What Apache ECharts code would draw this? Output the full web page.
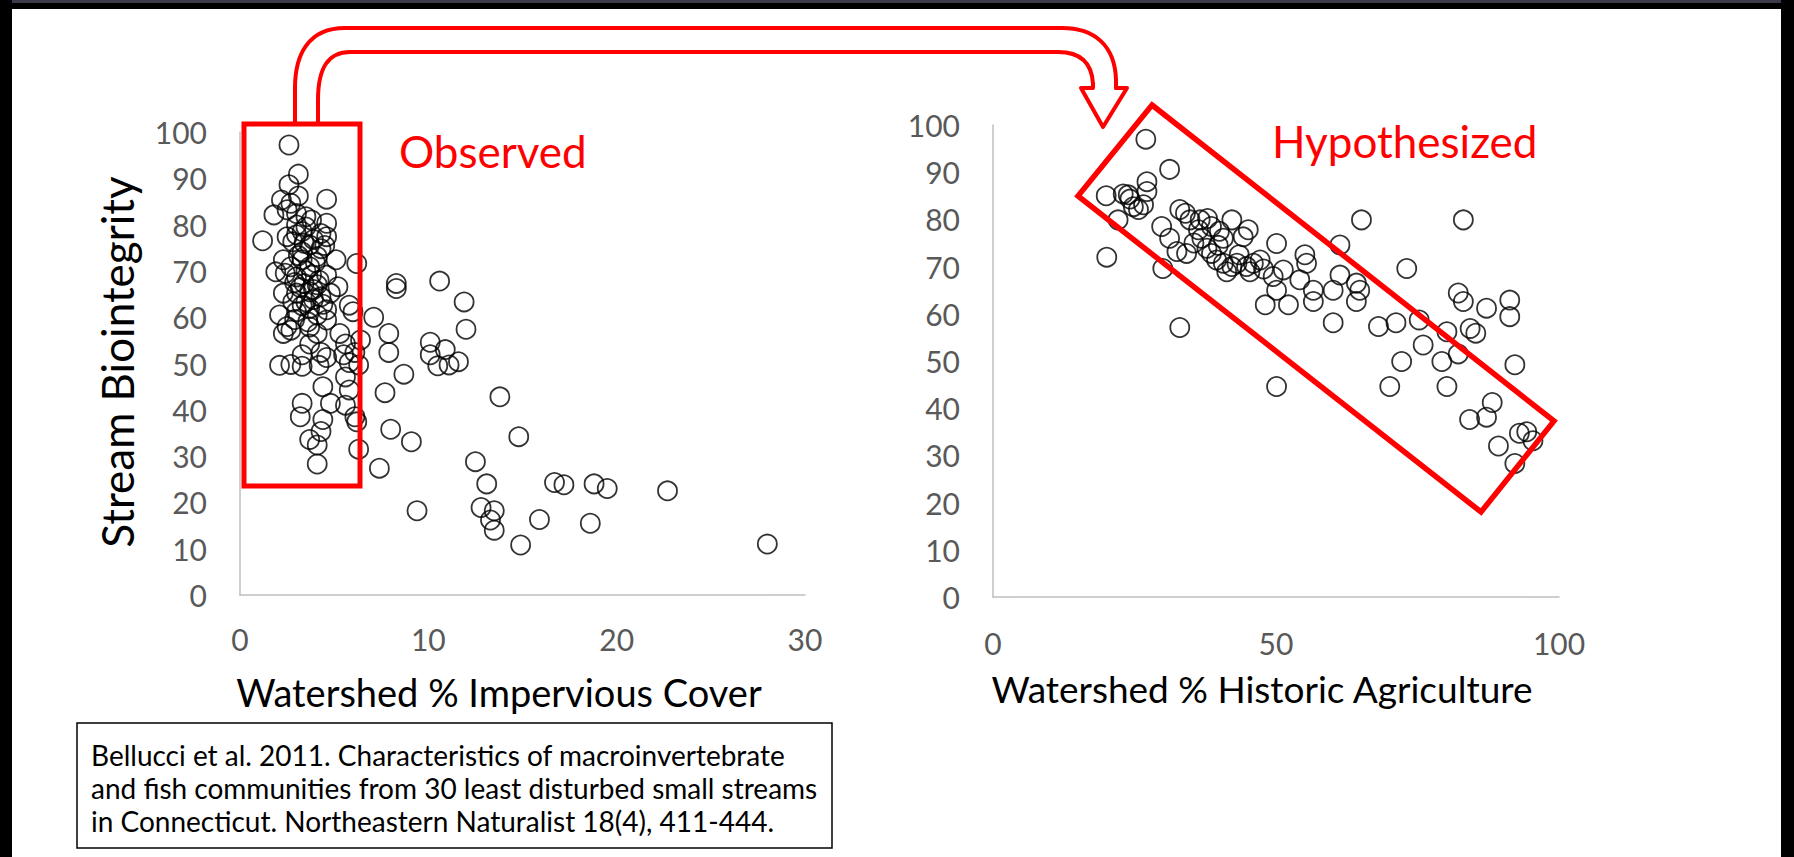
<!DOCTYPE html>
<html>
<head>
<meta charset="utf-8">
<script src="https://cdn.jsdelivr.net/npm/echarts@6/dist/echarts.min.js"></script>
<style>
html,body{margin:0;padding:0;background:#fff;}
#chart{width:1794px;height:857px;}
</style>
</head>
<body>
<div id="chart"></div>
<script>
// ---- Data ----
// Left panel: Watershed % Impervious Cover vs Stream Biointegrity (observed)
const observedPoints = [
  [2.6,97.2],
  [3.1,90.9],[2.6,88.6],[2.2,85.3],[3.1,86.2],[4.6,85.5],[2.7,84.6],
  [1.8,82.1],[2.5,83.2],[3.0,82.4],[3.5,81.7],[3.8,81.0],
  [3.0,79.9],[3.5,79.5],[4.6,80.3],[4.3,78.1],[3.0,77.8],[2.5,77.4],
  [1.2,76.5],[2.8,76.3],[3.7,75.6],[4.6,77.4],[4.3,74.8],[3.3,74.1],
  [2.3,72.4],[3.3,72.4],[4.1,73.1],[5.1,72.4],[6.2,71.6],[3.7,70.9],[2.7,70.9],
  [1.9,69.8],[2.4,69.5],[3.0,68.7],[3.8,69.1],[4.6,69.1],[3.4,67.3],[4.1,67.0],[5.2,66.6],
  [2.3,65.2],[3.0,65.2],[3.7,65.5],[4.3,64.4],[4.8,65.2],[2.8,63.3],[3.5,63.3],
  [2.1,60.5],[5.8,62.6],[6.0,61.2],[4.6,61.6],[3.7,61.9],[3.0,61.2],[4.1,60.5],
  [2.5,58.0],[2.7,57.2],[2.3,56.5],[3.7,57.9],[4.1,56.5],[5.3,56.5],[6.4,55.1],[4.6,59.4],
  [3.7,54.2],[4.3,52.4],[5.6,54.2],[3.3,51.9],[4.6,51.3],[5.5,51.9],[6.1,52.4],
  [2.1,49.6],[2.7,49.8],[3.3,49.4],[4.2,49.6],[5.8,50.2],
  [3.3,78.5],[3.9,76.8],[3.4,76.0],[4.0,71.8],[3.5,70.0],[4.2,68.0],[3.2,66.4],[3.9,63.8],
  [3.3,62.5],[4.4,62.8],[3.6,59.0],[2.9,59.5],[3.9,66.0],[3.1,73.3],[4.5,75.5],[2.9,67.5],
  [8.3,67.3],[8.3,66.2],[10.6,67.8],[11.9,63.3],[12.0,57.4],[7.1,60.0],[7.9,56.5],[7.9,52.4],
  [10.1,54.6],[10.9,53.0],[10.1,51.9],
  [6.3,49.7],[8.7,47.7],[7.7,43.7],[10.5,49.5],[11.1,49.7],[11.6,50.4],
  [4.4,45.0],[3.3,41.4],[4.8,41.4],[5.6,41.0],[5.8,44.3],[5.6,47.1],
  [3.2,38.5],[4.4,37.9],[6.1,38.5],[6.2,37.4],[4.3,35.3],[3.7,33.6],[4.1,32.4],[4.1,28.3],
  [6.3,31.5],[8.0,35.8],[9.1,33.1],[7.4,27.4],
  [13.8,42.8],[14.8,34.2],[12.5,28.8],[13.1,24.0],[16.7,24.3],[17.2,23.8],[18.8,24.0],[19.5,23.0],[22.7,22.5],
  [9.4,18.2],[12.8,18.9],[13.5,18.2],[13.3,16.2],[13.5,14.0],[15.9,16.3],[18.6,15.5],[14.9,10.8],[28.0,11.0]
];

// Right panel: Watershed % Historic Agriculture vs Stream Biointegrity (hypothesized)
const hypothesizedPoints = [
  [27.0,97.0],[31.2,90.6],
  [20.0,85.0],[23.0,85.4],[23.9,85.2],[24.2,84.3],[27.2,88.0],[27.2,85.9],[25.7,82.1],[26.6,83.1],[24.8,82.7],[22.1,79.9],
  [20.1,72.0],[30.0,69.6],
  [29.8,78.5],[31.2,76.0],[33.0,82.1],[34.0,81.3],[34.8,79.9],[32.5,73.2],[34.2,72.8],
  [36.3,77.8],[36.9,76.0],[36.6,79.9],[37.9,80.2],[38.6,78.5],[37.8,73.9],[38.6,72.8],[39.5,71.4],
  [40.7,76.0],[42.2,79.9],[40.7,70.7],[41.3,68.9],[42.2,70.0],[43.1,70.7],[44.2,76.3],[45.1,77.8],
  [46.0,70.7],[47.2,71.4],[45.4,68.9],[50.1,74.9],[51.3,69.3],[49.5,67.9],[50.1,65.0],[48.1,61.9],[52.2,61.9],
  [55.1,72.5],[55.4,70.7],[54.2,67.2],[56.6,65.0],[56.6,62.6],[61.3,74.6],[61.3,68.2],[60.1,65.0],
  [64.2,66.5],[64.8,65.0],[64.2,62.6],[65.1,79.9],[73.1,69.6],[83.1,79.9],[82.2,64.4],[83.1,62.6],
  [87.2,61.2],[91.3,62.9],[91.3,59.4],
  [35.5,75.0],[39.8,74.5],[43.5,72.5],[47.8,69.5],[44.8,70.0],[40.0,77.5],
  [33.0,57.1],[60.1,58.1],[68.1,57.3],[71.2,58.1],[75.3,58.7],[80.2,56.2],[84.3,56.9],[85.3,55.9],
  [76.0,53.4],[72.2,49.9],[79.3,49.9],[82.2,51.5],[92.2,49.2],
  [50.1,44.6],[70.1,44.6],[80.2,44.6],[88.2,41.2],[84.2,37.6],[87.2,38.1],[93.0,34.7],[94.3,35.0],
  [95.4,33.1],[89.3,32.0],[92.2,28.3]
];

const leftXTicks = {min: 0, max: 30, interval: 10};
const rightXTicks = {min: 0, max: 100, interval: 50};
const yTicks = {min: 0, max: 100, interval: 10};

const citationLines = [
  'Bellucci et al. 2011. Characteristics of macroinvertebrate',
  'and fish communities from 30 least disturbed small streams',
  'in Connecticut. Northeastern Naturalist 18(4), 411-444.'
];

// ---- Chart ----
const FONT = 'Lato, "Open Sans", sans-serif';
const chart = echarts.init(document.getElementById('chart'), null, {renderer: 'svg', width: 1794, height: 857});

function axisCommon(margin) {
  return {
    type: 'value',
    axisLine: {show: true, onZero: false, lineStyle: {color: '#bfbfbf', width: 1.5}},
    axisTick: {show: false},
    splitLine: {show: false},
    axisLabel: {color: '#595959', fontSize: 30, fontFamily: FONT, margin: margin}
  };
}

const markerStyle = {color: 'rgba(0,0,0,0)', borderColor: '#000', borderWidth: 1.8};

function txt(text, x, y, size, color, align, rotation) {
  return {
    type: 'text', x: x, y: y, z: 100, silent: true, rotation: rotation || 0,
    style: {text: text, fontSize: size, fontFamily: FONT, fill: color,
            align: align || 'left', textAlign: align || 'left',
            verticalAlign: 'middle', textVerticalAlign: 'middle'}
  };
}

const RED = '#ff0000';
const arrowStyle = {fill: 'none', stroke: RED, lineWidth: 4, lineCap: 'round', lineJoin: 'round'};
function seg(x1, y1, x2, y2) {
  return {type: 'line', z: 110, silent: true, shape: {x1: x1, y1: y1, x2: x2, y2: y2}, style: arrowStyle};
}
function bez(x1, y1, c1x, c1y, c2x, c2y, x2, y2) {
  return {type: 'bezierCurve', z: 110, silent: true,
          shape: {x1: x1, y1: y1, cpx1: c1x, cpy1: c1y, cpx2: c2x, cpy2: c2y, x2: x2, y2: y2}, style: arrowStyle};
}

const graphics = [
  // frame
  {type: 'rect', z: 100, silent: true, shape: {x: 0, y: 0, width: 1794, height: 9}, style: {fill: '#000'}},
  {type: 'rect', z: 100, silent: true, shape: {x: 0, y: 0, width: 1794, height: 3}, style: {fill: '#3b3b4a'}},
  {type: 'rect', z: 100, silent: true, shape: {x: 0, y: 0, width: 12, height: 857}, style: {fill: '#000'}},
  {type: 'rect', z: 100, silent: true, shape: {x: 1781, y: 0, width: 13, height: 857}, style: {fill: '#000'}},
  // arrow (outer contour)
  seg(295, 124, 295, 88),
  bez(295, 88, 295, 55, 308, 28, 345, 28),
  seg(345, 28, 1062, 28),
  bez(1062, 28, 1094, 28, 1115, 45, 1116, 80),
  seg(1116, 80, 1116, 88),
  {type: 'polyline', z: 110, silent: true,
   shape: {points: [[1116, 88], [1127, 88], [1103, 127], [1081, 88], [1093, 88], [1093, 84]]}, style: arrowStyle},
  // arrow (inner contour)
  bez(1093, 84, 1092, 64, 1082, 52, 1058, 52),
  seg(1058, 52, 350, 52),
  bez(350, 52, 328, 52, 318, 68, 318, 100),
  seg(318, 100, 318, 124),
  // observed box
  {type: 'rect', z: 110, silent: true, shape: {x: 244, y: 124, width: 116, height: 362},
   style: {fill: 'none', stroke: RED, lineWidth: 5}},
  // hypothesized box
  {type: 'polygon', z: 110, silent: true,
   shape: {points: [[1152, 105], [1554, 421], [1481, 512], [1078, 196]]},
   style: {fill: 'none', stroke: RED, lineWidth: 5.5}},
  // labels
  txt('Observed', 399, 151, 44, RED),
  txt('Hypothesized', 1272, 141, 44, RED),
  txt('Stream Biointegrity', 117, 362, 44, '#000', 'center', Math.PI / 2),
  txt('Watershed % Impervious Cover', 499, 692, 38, '#000', 'center'),
  txt('Watershed % Historic Agriculture', 1262, 688, 37, '#000', 'center'),
  // citation box
  {type: 'rect', z: 100, silent: true, shape: {x: 77, y: 723, width: 755, height: 125},
   style: {fill: '#fff', stroke: '#000', lineWidth: 1.5}}
];
citationLines.forEach(function (line, i) {
  graphics.push(txt(line, 91, 755 + i * 33, 28, '#000'));
});

chart.setOption({
  animation: false,
  backgroundColor: '#fff',
  grid: [
    {left: 240, top: 132, width: 565, height: 463},
    {left: 993, top: 125, width: 566, height: 472}
  ],
  xAxis: [
    Object.assign(axisCommon(29), {gridIndex: 0}, leftXTicks),
    Object.assign(axisCommon(31), {gridIndex: 1}, rightXTicks)
  ],
  yAxis: [
    Object.assign(axisCommon(33), {gridIndex: 0}, yTicks),
    Object.assign(axisCommon(33), {gridIndex: 1}, yTicks)
  ],
  series: [
    {type: 'scatter', xAxisIndex: 0, yAxisIndex: 0, data: observedPoints, symbol: 'circle',
     symbolSize: 19, itemStyle: markerStyle, silent: true},
    {type: 'scatter', xAxisIndex: 1, yAxisIndex: 1, data: hypothesizedPoints, symbol: 'circle',
     symbolSize: 19, itemStyle: markerStyle, silent: true}
  ],
  graphic: {elements: graphics}
});
</script>
</body>
</html>
